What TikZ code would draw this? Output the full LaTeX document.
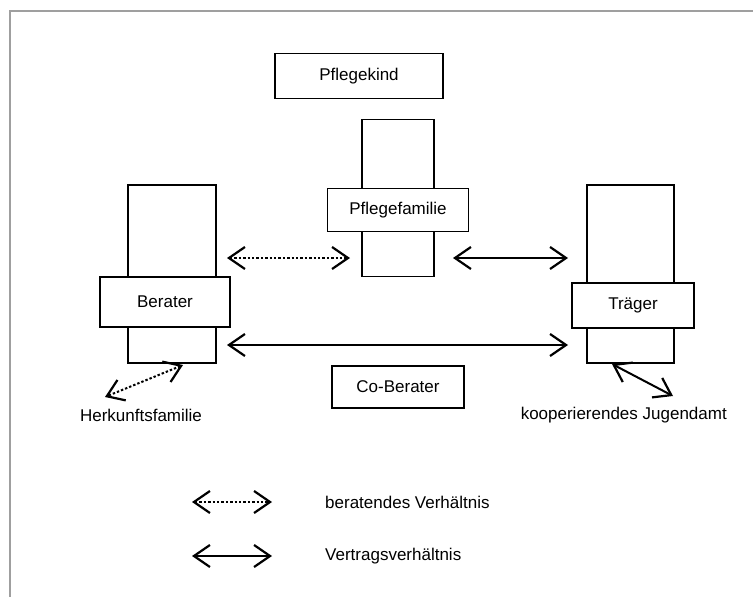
\documentclass[tikz,border=0pt]{standalone}
\usepackage{fontspec}
\setmainfont{Liberation Sans}
\usetikzlibrary{arrows.meta}
\begin{document}
\begin{tikzpicture}[x=1pt,y=-1pt,
  box/.style={draw=black,line width=1.8pt,fill=white,inner sep=0pt,font=\fontsize{17}{20}\selectfont},
  lbl/.style={inner sep=0pt,font=\fontsize{17}{20}\selectfont},
  rel/.style={line width=2pt,{Straight Barb[length=16pt,width=22pt,line width=2.2pt]}-{Straight Barb[length=16pt,width=22pt,line width=2.2pt]}},
  relcons/.style={rel,dash pattern=on 2.4pt off 2pt},
  relcontract/.style={rel}]
\useasboundingbox (0,0) rectangle (753,597);
\fill[white] (0,0) rectangle (753,597);
% frame
\draw[gray!75,line width=2pt] (10,597) -- (10,11) -- (753,11);
% Pflegekind
\node[box,minimum width=168pt,minimum height=45pt] (kind) at (359,76) {Pflegekind};
% Pflegefamilie
\node[box,minimum width=72pt,minimum height=157pt] (famt) at (398,198) {};
\node[box,minimum width=141pt,minimum height=43pt] (fam) at (398,210) {Pflegefamilie};
% Berater
\node[box,minimum width=88pt,minimum height=178pt] (bert) at (172,274) {};
\node[box,minimum width=130pt,minimum height=50pt] (ber) at (165,302) {Berater};
% Traeger
\node[box,minimum width=87pt,minimum height=178pt] (trt) at (630.5,274) {};
\node[box,minimum width=122pt,minimum height=45pt] (tr) at (633,305.5) {Träger};
% Co-Berater
\node[box,minimum width=132pt,minimum height=42pt] (co) at (398,387) {Co-Berater};
% free labels
\node[lbl] (herk) at (141,415) {Herkunftsfamilie};
\node[lbl,anchor=east] (jug) at (727,415) {kooperierendes Jugendamt};
% connector end points
\coordinate (a1) at (227,258); \coordinate (a2) at (350,258);
\coordinate (b1) at (453,258); \coordinate (b2) at (568,258);
\coordinate (c1) at (227,345); \coordinate (c2) at (568,345);
\coordinate (d1) at (183,365); \coordinate (d2) at (105,397);
\coordinate (e1) at (612,364); \coordinate (e2) at (673,396);
\draw[relcons] (a1) -- (a2);
\draw[relcontract] (b1) -- (b2);
\draw[relcontract] (c1) -- (c2);
\draw[relcons] (d1) -- (d2);
\draw[relcontract] (e1) -- (e2);
% legend
\coordinate (l1) at (192,502); \coordinate (l2) at (272,502);
\coordinate (m1) at (192,556); \coordinate (m2) at (272,556);
\draw[relcons] (l1) -- (l2);
\draw[relcontract] (m1) -- (m2);
\node[lbl,anchor=west] (leg1) at (325,502) {beratendes Verhältnis};
\node[lbl,anchor=west] (leg2) at (325,556) {Vertragsverhältnis};
\end{tikzpicture}
\end{document}
